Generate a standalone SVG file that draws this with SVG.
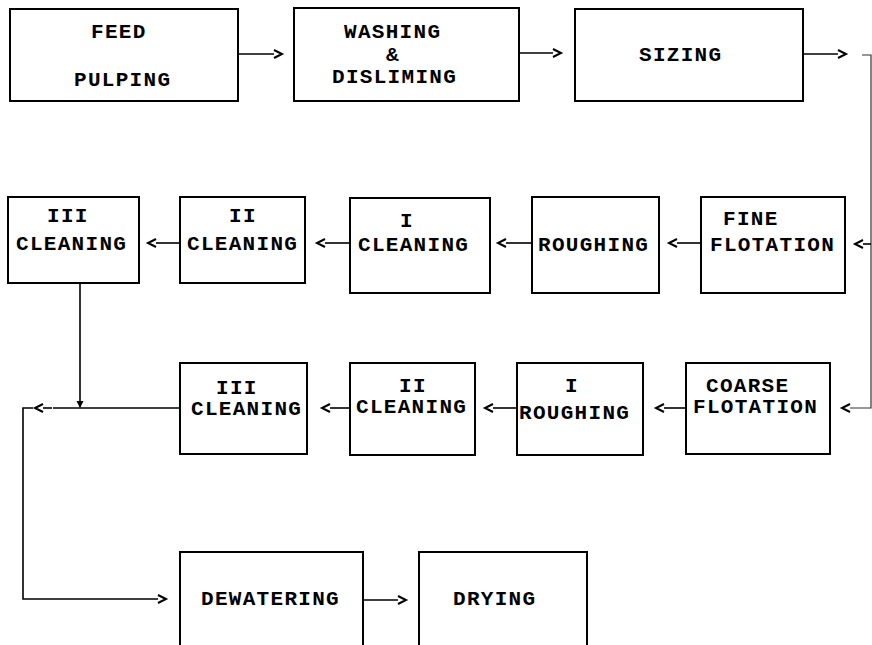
<svg xmlns="http://www.w3.org/2000/svg" width="872" height="645" viewBox="0 0 872 645">
<style>
.box{fill:#fff;stroke:#000;stroke-width:2}
.t{font-family:"Liberation Mono","DejaVu Sans Mono",monospace;font-weight:bold;font-size:21px;letter-spacing:1.3px;fill:#000}
.c{fill:none;stroke:#000;stroke-width:1.6}
.v{fill:none;stroke:#333;stroke-width:1.2}
</style>
<defs>
<marker id="chev" markerUnits="userSpaceOnUse" markerWidth="12" markerHeight="12" refX="0" refY="5" orient="auto" overflow="visible">
<path d="M0,1 L8,5 L0,9" fill="none" stroke="#000" stroke-width="2"/>
</marker>
<marker id="blob" markerUnits="userSpaceOnUse" markerWidth="10" markerHeight="10" refX="6" refY="4" orient="auto" overflow="visible">
<path d="M0,0.5 L7,4 L0,7.5 Z" fill="#000"/>
</marker>
</defs>
<rect width="872" height="645" fill="#fff"/>
<g id="connectors">
<line class="c" x1="238" y1="54" x2="274" y2="54" marker-end="url(#chev)"/>
<line class="c" x1="520" y1="53" x2="553" y2="53" marker-end="url(#chev)"/>
<line class="c" x1="803" y1="54" x2="838" y2="54" marker-end="url(#chev)"/>
<polyline class="v" points="862,55 871,55 871,408 850,408" marker-end="url(#chev)"/>
<line class="c" x1="871" y1="244" x2="863" y2="244" marker-end="url(#chev)"/>
<line class="c" x1="701" y1="243" x2="677" y2="243" marker-end="url(#chev)"/>
<line class="c" x1="532" y1="243" x2="506" y2="243" marker-end="url(#chev)"/>
<line class="c" x1="350" y1="243" x2="325" y2="243" marker-end="url(#chev)"/>
<line class="c" x1="180" y1="243" x2="156" y2="243" marker-end="url(#chev)"/>
<line class="c" x1="686" y1="408" x2="664" y2="408" marker-end="url(#chev)"/>
<line class="c" x1="517" y1="408" x2="493" y2="408" marker-end="url(#chev)"/>
<line class="c" x1="350" y1="408" x2="330" y2="408" marker-end="url(#chev)"/>
<line class="c" x1="180" y1="408" x2="53" y2="408"/>
<line class="c" x1="80" y1="283" x2="80" y2="407" marker-end="url(#blob)"/>
<line class="c" x1="52" y1="408" x2="43" y2="408" marker-end="url(#chev)" stroke="none"/>
<polyline class="c" points="33,408 23,408 23,599 158,599" marker-end="url(#chev)"/>
<line class="c" x1="363" y1="600" x2="398" y2="600" marker-end="url(#chev)"/>
</g>
<g id="n1"><rect class="box" x="10" y="9" width="228" height="92"/><text class="t" x="91" y="38">FEED</text><text class="t" x="74" y="86">PULPING</text></g>
<g id="n2"><rect class="box" x="294" y="8" width="225" height="93"/><text class="t" x="344" y="38">WASHING</text><text class="t" x="386" y="61">&amp;</text><text class="t" x="332" y="83">DISLIMING</text></g>
<g id="n3"><rect class="box" x="575" y="9" width="228" height="92"/><text class="t" x="639" y="61">SIZING</text></g>
<g id="n4"><rect class="box" x="8" y="197" width="131" height="86"/><text class="t" x="47" y="222">III</text><text class="t" x="16" y="250">CLEANING</text></g>
<g id="n5"><rect class="box" x="180" y="197" width="125" height="86"/><text class="t" x="229" y="222">II</text><text class="t" x="187" y="250">CLEANING</text></g>
<g id="n6"><rect class="box" x="350" y="198" width="140" height="95"/><text class="t" x="400" y="227">I</text><text class="t" x="358" y="251">CLEANING</text></g>
<g id="n7"><rect class="box" x="532" y="197" width="127" height="96"/><text class="t" x="538" y="251">ROUGHING</text></g>
<g id="n8"><rect class="box" x="701" y="197" width="144" height="96"/><text class="t" x="723" y="225">FINE</text><text class="t" x="710" y="251">FLOTATION</text></g>
<g id="n9"><rect class="box" x="180" y="363" width="127" height="91"/><text class="t" x="216" y="394">III</text><text class="t" x="191" y="415">CLEANING</text></g>
<g id="n10"><rect class="box" x="350" y="363" width="125" height="92"/><text class="t" x="399" y="392">II</text><text class="t" x="356" y="413">CLEANING</text></g>
<g id="n11"><rect class="box" x="517" y="363" width="126" height="92"/><text class="t" x="565" y="392">I</text><text class="t" x="519" y="419">ROUGHING</text></g>
<g id="n12"><rect class="box" x="686" y="363" width="144" height="91"/><text class="t" x="706" y="392">COARSE</text><text class="t" x="693" y="413">FLOTATION</text></g>
<g id="n13"><rect class="box" x="180" y="552" width="183" height="110"/><text class="t" x="201" y="605">DEWATERING</text></g>
<g id="n14"><rect class="box" x="419" y="552" width="168" height="110"/><text class="t" x="453" y="605">DRYING</text></g>
</svg>
